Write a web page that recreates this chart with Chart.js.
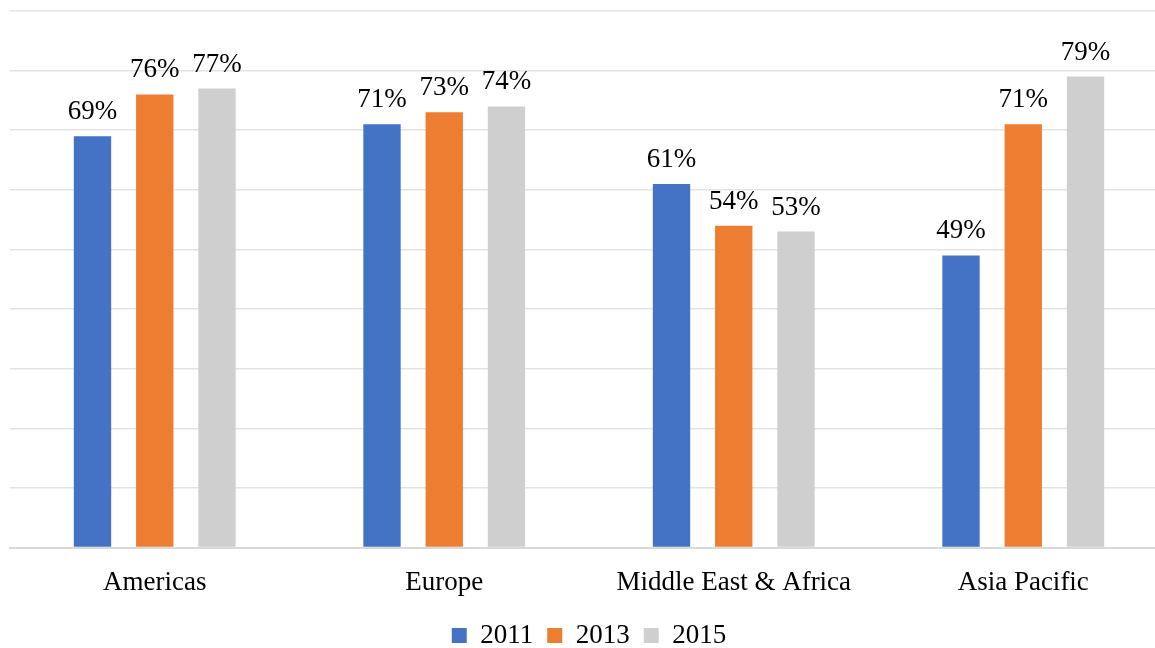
<!DOCTYPE html>
<html>
<head>
<meta charset="utf-8">
<script src="https://cdn.jsdelivr.net/npm/chart.js@4"></script>
<style>
  html, body { margin: 0; padding: 0; background: #fff; overflow: hidden; }
  #wrap { width: 1168px; height: 648px; position: relative; }
</style>
</head>
<body>
<div id="wrap"><canvas id="regionChart"></canvas></div>
<script>
const regions = ["Americas", "Europe", "Middle East & Africa", "Asia Pacific"];
const years = ["2011", "2013", "2015"];
const values2011 = [69, 71, 61, 49];
const values2013 = [76, 73, 54, 71];
const values2015 = [77, 74, 53, 79];
const yearColors = ["#4472C4", "#ED7D31", "#D0CFCF"];

const serif = "'Liberation Serif', 'Times New Roman', serif";

// draws the percentage above each bar
const barValueLabels = {
  id: "barValueLabels",
  afterDatasetsDraw(chart) {
    const ctx = chart.ctx;
    ctx.save();
    ctx.font = "27px " + serif;
    ctx.fillStyle = "#000";
    ctx.textAlign = "center";
    ctx.textBaseline = "alphabetic";
    chart.data.datasets.forEach((ds, i) => {
      const meta = chart.getDatasetMeta(i);
      meta.data.forEach((bar, j) => {
        ctx.fillText(ds.data[j] + "%", bar.x, bar.y - 17);
      });
    });
    ctx.restore();
  }
};

const ctx = document.getElementById("regionChart").getContext("2d");

new Chart(ctx, {
  type: "bar",
  data: {
    labels: regions,
    datasets: [
      { label: years[0], data: values2011, backgroundColor: yearColors[0] },
      { label: years[1], data: values2013, backgroundColor: yearColors[1] },
      { label: years[2], data: values2015, backgroundColor: yearColors[2] },
    ],
  },
  options: {
    responsive: true,
    maintainAspectRatio: false,
    animation: false,
    categoryPercentage: 0.645,
    barPercentage: 0.6,
    // negative bottom padding pulls the legend closer to the bottom edge
    layout: { padding: { left: 10, right: 0, top: 11, bottom: -11 } },
    scales: {
      x: {
        grid: { display: false },
        border: { color: "#D9D9D9", width: 2 },
        ticks: { color: "#000", font: { family: serif, size: 27 }, padding: 11 },
        afterFit(scale) { scale.height -= 2; },
      },
      y: {
        min: 0,
        max: 90,
        ticks: { display: false, stepSize: 10 },
        grid: { color: "#E3E3E3", lineWidth: 1.5, drawTicks: false },
        border: { display: false },
      },
    },
    plugins: {
      legend: {
        position: "bottom",
        labels: {
          color: "#000",
          font: { family: serif, size: 27 },
          boxWidth: 15,
          boxHeight: 15,
          padding: 14,
        },
      },
      tooltip: { enabled: false },
    },
  },
  plugins: [barValueLabels],
});
</script>
</body>
</html>
